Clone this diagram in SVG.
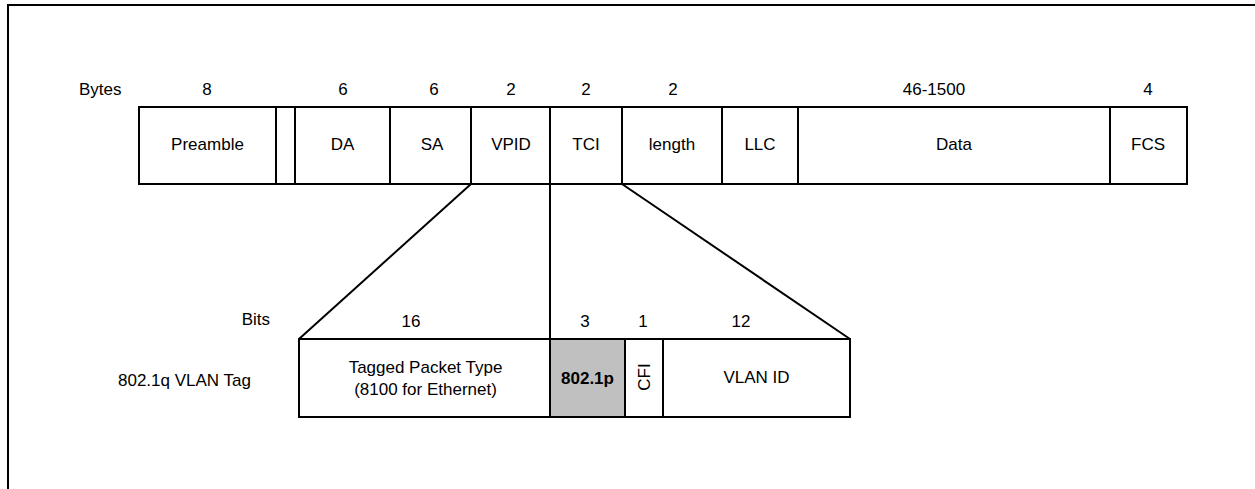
<svg xmlns="http://www.w3.org/2000/svg" width="1255" height="489" viewBox="0 0 1255 489">
<style>
  text { font-family: "Liberation Sans", Arial, sans-serif; font-size: 17px; fill: #000; }
  .c { text-anchor: middle; }
  .e { text-anchor: end; }
  .b { font-weight: bold; }
  .box { fill: #fff; stroke: #000; stroke-width: 2; }
  .gray { fill: #c0c0c0; stroke: #000; stroke-width: 2; }
  .ln { fill: none; stroke: #000; stroke-width: 2; }
</style>
<rect x="0" y="0" width="1255" height="489" fill="#fff"/>
<g id="frame">
  <polyline class="ln" points="8,495 8,5 1260,5" stroke-width="2.5"/>
</g>
<g id="labels">
  <text x="79" y="94.5">Bytes</text>
  <text x="270" y="325" class="e">Bits</text>
  <text x="118" y="385.5">802.1q VLAN Tag</text>
</g>
<g id="byte-counts">
  <text x="207" y="94.5" class="c">8</text>
  <text x="343" y="94.5" class="c">6</text>
  <text x="434" y="94.5" class="c">6</text>
  <text x="511" y="94.5" class="c">2</text>
  <text x="586" y="94.5" class="c">2</text>
  <text x="673" y="94.5" class="c">2</text>
  <text x="934" y="94.5" class="c">46-1500</text>
  <text x="1148" y="94.5" class="c">4</text>
</g>
<g id="bit-counts">
  <text x="411" y="327" class="c">16</text>
  <text x="585" y="327" class="c">3</text>
  <text x="643" y="327" class="c">1</text>
  <text x="741" y="327" class="c">12</text>
</g>
<g id="connectors">
  <line class="ln" x1="471" y1="184" x2="299" y2="339"/>
  <line class="ln" x1="550" y1="184" x2="550" y2="339"/>
  <line class="ln" x1="622" y1="184" x2="850" y2="339"/>
</g>
<g id="preamble"><rect class="box" x="139" y="107" width="137" height="77"/><text x="207.5" y="150" class="c">Preamble</text></g>
<g id="sfd"><rect class="box" x="276" y="107" width="19" height="77"/></g>
<g id="da"><rect class="box" x="295" y="107" width="95" height="77"/><text x="342.5" y="150" class="c">DA</text></g>
<g id="sa"><rect class="box" x="390" y="107" width="81" height="77"/><text x="432" y="150" class="c">SA</text></g>
<g id="vpid"><rect class="box" x="471" y="107" width="79" height="77"/><text x="511" y="150" class="c">VPID</text></g>
<g id="tci"><rect class="box" x="550" y="107" width="72" height="77"/><text x="586" y="150" class="c">TCI</text></g>
<g id="length"><rect class="box" x="622" y="107" width="100" height="77"/><text x="672" y="150" class="c">length</text></g>
<g id="llc"><rect class="box" x="722" y="107" width="76" height="77"/><text x="760" y="150" class="c">LLC</text></g>
<g id="data"><rect class="box" x="798" y="107" width="312" height="77"/><text x="954" y="150" class="c">Data</text></g>
<g id="fcs"><rect class="box" x="1110" y="107" width="77" height="77"/><text x="1148" y="150" class="c">FCS</text></g>
<g id="tpid"><rect class="box" x="299" y="339" width="251" height="78"/><text x="425.5" y="372.5" class="c">Tagged Packet Type</text><text x="425.5" y="394.5" class="c">(8100 for Ethernet)</text></g>
<g id="priority"><rect class="gray" x="550" y="339" width="75" height="78"/><text x="587.5" y="383.5" class="c b">802.1p</text></g>
<g id="cfi"><rect class="box" x="625" y="339" width="38" height="78"/><text x="0" y="0" class="c" transform="translate(649.5,377) rotate(-90)">CFI</text></g>
<g id="vlanid"><rect class="box" x="663" y="339" width="187" height="78"/><text x="756.5" y="382.5" class="c">VLAN ID</text></g>
</svg>
